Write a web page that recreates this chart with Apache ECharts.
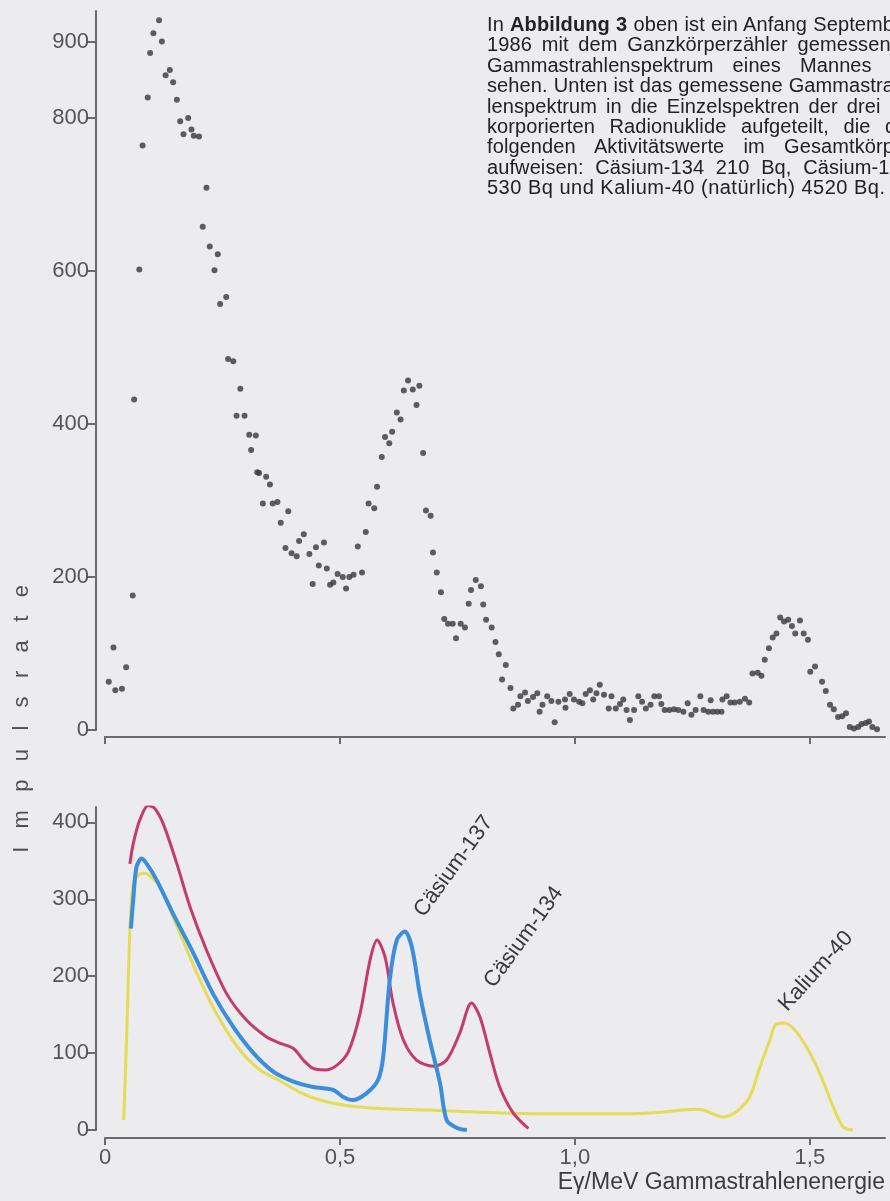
<!DOCTYPE html>
<html>
<head>
<meta charset="utf-8">
<title>Gammaspektrum</title>
<script src="https://cdn.jsdelivr.net/npm/echarts@6/dist/echarts.min.js"></script>
<style>
  html, body { margin: 0; padding: 0; width: 890px; height: 1201px; overflow: hidden; background: #ecebee; }
  #chart { position: absolute; left: 0; top: 0; width: 890px; height: 1201px; }
  #text { position: absolute; left: 487px; top: 14px; font-family: "Liberation Sans", Arial, sans-serif;
          font-size: 20px; letter-spacing: 0.1px; line-height: 20.4px; color: #222; }
  #text div { width: 425px; text-align: justify; text-align-last: justify; white-space: normal; }
  #text div.last { text-align-last: left; width: 600px; letter-spacing: 0.5px; }
</style>
</head>
<body>
<div id="chart"></div>
<div id="text">
  <div>In <b>Abbildung 3</b> oben ist ein Anfang September</div>
  <div>1986 mit dem Ganzkörperzähler gemessenes</div>
  <div>Gammastrahlenspektrum eines Mannes zu</div>
  <div>sehen. Unten ist das gemessene Gammastrah-</div>
  <div>lenspektrum in die Einzelspektren der drei in-</div>
  <div>korporierten Radionuklide aufgeteilt, die die</div>
  <div>folgenden Aktivitätswerte im Gesamtkörper</div>
  <div>aufweisen: Cäsium-134 210 Bq, Cäsium-137</div>
  <div class="last">530 Bq und Kalium-40 (natürlich) 4520 Bq.</div>
</div>
<script>
// gemessenes Spektrum (oben), Energie in MeV und Impulsrate
var spectrumE = [0.008, 0.018, 0.022, 0.036, 0.045, 0.059, 0.062, 0.073, 0.080, 0.091,
  0.096, 0.103, 0.115, 0.121, 0.129, 0.138, 0.145, 0.153, 0.160, 0.167,
  0.177, 0.184, 0.189, 0.200, 0.208, 0.216, 0.223, 0.233, 0.240, 0.245,
  0.258, 0.262, 0.273, 0.280, 0.288, 0.297, 0.307, 0.311, 0.321, 0.324,
  0.328, 0.336, 0.343, 0.351, 0.357, 0.367, 0.374, 0.384, 0.390, 0.397,
  0.408, 0.413, 0.423, 0.435, 0.442, 0.449, 0.455, 0.466, 0.472, 0.479,
  0.486, 0.495, 0.506, 0.513, 0.520, 0.529, 0.538, 0.547, 0.555, 0.561,
  0.573, 0.579, 0.589, 0.596, 0.605, 0.611, 0.621, 0.629, 0.636, 0.645,
  0.655, 0.663, 0.669, 0.677, 0.683, 0.693, 0.698, 0.706, 0.715, 0.722,
  0.730, 0.740, 0.747, 0.757, 0.766, 0.774, 0.779, 0.789, 0.800, 0.805,
  0.811, 0.823, 0.831, 0.838, 0.845, 0.853, 0.863, 0.869, 0.879, 0.884,
  0.894, 0.900, 0.911, 0.920, 0.925, 0.931, 0.941, 0.950, 0.957, 0.965,
  0.979, 0.980, 0.989, 0.998, 1.009, 1.016, 1.023, 1.032, 1.039, 1.046,
  1.053, 1.062, 1.072, 1.078, 1.087, 1.096, 1.103, 1.110, 1.117, 1.126,
  1.135, 1.143, 1.151, 1.161, 1.169, 1.179, 1.184, 1.191, 1.201, 1.211,
  1.220, 1.231, 1.240, 1.248, 1.257, 1.267, 1.274, 1.284, 1.289, 1.294,
  1.303, 1.312, 1.314, 1.323, 1.331, 1.340, 1.351, 1.362, 1.371, 1.378,
  1.389, 1.397, 1.404, 1.413, 1.421, 1.429, 1.437, 1.445, 1.454, 1.462,
  1.469, 1.479, 1.487, 1.496, 1.501, 1.511, 1.526, 1.534, 1.543, 1.551,
  1.560, 1.569, 1.577, 1.585, 1.594, 1.603, 1.610, 1.619, 1.626, 1.633, 1.643];
var spectrumCounts = [63, 108, 52, 54, 82, 176, 432, 602, 764, 827,
  885, 911, 928, 900, 856, 863, 847, 824, 796, 779,
  800, 785, 777, 776, 658, 709, 632, 601, 622, 557,
  566, 485, 482, 411, 446, 411, 386, 366, 385, 337,
  336, 296, 331, 321, 296, 298, 271, 238, 286, 231,
  227, 247, 256, 230, 191, 239, 215, 245, 211, 190,
  193, 204, 200, 185, 200, 203, 240, 206, 259, 296,
  290, 318, 357, 383, 375, 390, 415, 406, 444, 457,
  445, 425, 450, 362, 287, 280, 232, 206, 180, 145,
  139, 139, 120, 139, 134, 165, 183, 196, 188, 164,
  144, 134, 115, 99, 66, 85, 55, 28, 33, 44,
  49, 38, 43, 48, 24, 33, 44, 38, 10, 37,
  40, 29, 47, 40, 37, 35, 47, 52, 40, 48,
  59, 46, 28, 44, 28, 34, 40, 26, 13, 26,
  44, 37, 28, 33, 44, 44, 34, 26, 26, 27,
  26, 24, 35, 20, 26, 44, 26, 24, 39, 24,
  24, 24, 40, 44, 36, 36, 37, 41, 36, 74,
  75, 71, 92, 107, 121, 126, 147, 142, 144, 136,
  126, 143, 126, 118, 76, 83, 63, 51, 33, 27,
  17, 18, 22, 4, 2, 4, 8, 9, 11, 4, 1];

// Einzelspektren (unten)
var cs134E = [0.053, 0.060, 0.074, 0.092, 0.106, 0.124, 0.153, 0.181, 0.216, 0.259,
  0.301, 0.344, 0.372, 0.401, 0.422, 0.443, 0.468, 0.493, 0.518, 0.543,
  0.564, 0.579, 0.596, 0.613, 0.635, 0.663, 0.699, 0.727, 0.755, 0.780,
  0.798, 0.819, 0.840, 0.869, 0.901];
var cs134Counts = [346, 372, 403, 422, 418, 398, 346, 290, 234, 177,
  143, 121, 113, 106, 91, 80, 78, 84, 102, 152,
  221, 247, 225, 165, 117, 91, 83, 91, 126, 165,
  147, 100, 56, 22, 2];

var cs137E = [0.055, 0.060, 0.067, 0.078, 0.089, 0.110, 0.145, 0.188, 0.230, 0.273,
  0.316, 0.358, 0.401, 0.443, 0.486, 0.507, 0.528, 0.557, 0.581, 0.592,
  0.606, 0.621, 0.638, 0.653, 0.670, 0.691, 0.713, 0.727, 0.748, 0.770];
var cs137Counts = [262, 299, 342, 353, 346, 325, 281, 230, 177, 134,
  100, 76, 63, 56, 52, 43, 39, 48, 65, 95,
  195, 247, 258, 238, 177, 117, 61, 13, 3, 0];

var k40E = [0.040, 0.047, 0.053, 0.060, 0.072, 0.085, 0.100, 0.117, 0.160, 0.202,
  0.245, 0.287, 0.330, 0.372, 0.415, 0.457, 0.514, 0.585, 0.691, 0.798,
  0.940, 1.053, 1.110, 1.181, 1.252, 1.273, 1.316, 1.344, 1.372, 1.394,
  1.415, 1.426, 1.443, 1.465, 1.493, 1.521, 1.550, 1.571, 1.592];
var k40Counts = [13, 140, 260, 320, 332, 334, 328, 316, 255, 195,
  143, 104, 78, 64, 49, 39, 32, 28, 26, 23,
  21, 21, 21, 23, 27, 26, 17, 24, 43, 82,
  117, 136, 139, 132, 108, 74, 30, 4, 0];

var topTicks = [0, 200, 400, 600, 800, 900];
var bottomTicks = [0, 100, 200, 300, 400];
var energyTicks = [0, 0.5, 1.0, 1.5];
var peakLabels = [
  { name: 'Cäsium-137', coord: [0.687, 272] },
  { name: 'Cäsium-134', coord: [0.836, 180] },
  { name: 'Kalium-40', coord: [1.460, 149] }
];

function pairs(xs, ys) {
  return xs.map(function (x, i) { return [x, ys[i]]; });
}

var axisColor = '#6b6b6b';
var labelColor = '#545454';
var font = '"Liberation Sans", Arial, sans-serif';

function yAxisOf(grid, max, ticks) {
  return {
    type: 'value', gridIndex: grid, min: 0, max: max, offset: 9,
    axisLine: { show: true, onZero: false, lineStyle: { color: axisColor, width: 2 } },
    axisTick: { show: true, length: 9, customValues: ticks, lineStyle: { color: axisColor, width: 2 } },
    axisLabel: { customValues: ticks, color: labelColor, fontSize: 22, fontFamily: font, margin: 7 },
    splitLine: { show: false }
  };
}

function xAxisOf(grid, offset, withLabels) {
  return {
    type: 'value', gridIndex: grid, min: 0, max: 1.66, offset: offset,
    axisLine: { show: true, onZero: false, lineStyle: { color: axisColor, width: 2 } },
    axisTick: { show: true, length: 7, customValues: energyTicks, lineStyle: { color: axisColor, width: 2 } },
    axisLabel: {
      show: withLabels, customValues: energyTicks, color: labelColor, fontSize: 22, fontFamily: font, margin: 9,
      formatter: function (v) { return v === 0 ? '0' : v.toFixed(1).replace('.', ','); }
    },
    splitLine: { show: false },
    name: withLabels ? 'E\u03b3/MeV Gammastrahlenenergie' : '',
    nameLocation: 'end', nameGap: 0,
    nameTextStyle: { color: '#3c3c3c', fontSize: 23, fontFamily: font, align: 'right', verticalAlign: 'top', padding: [33, 0, 0, 0] }
  };
}

function labelMark(i, angle) {
  return {
    symbol: 'circle', symbolSize: 0, silent: true,
    data: [{ name: peakLabels[i].name, coord: peakLabels[i].coord }],
    label: {
      show: true, formatter: '{b}', position: 'inside', align: 'left', verticalAlign: 'bottom',
      rotate: angle, color: '#3a3a3a', fontSize: 22, fontFamily: font
    }
  };
}

var chart = echarts.init(document.getElementById('chart'), null, { renderer: 'canvas' });
chart.setOption({
  backgroundColor: 'transparent',
  animation: false,
  grid: [
    { left: 105, top: 11, width: 780, height: 719 },
    { left: 105, top: 807, width: 780, height: 323 }
  ],
  xAxis: [xAxisOf(0, 7, false), xAxisOf(1, 8, true)],
  yAxis: [yAxisOf(0, 940, topTicks), yAxisOf(1, 420, bottomTicks)],
  graphic: [{
    type: 'text', x: 22, y: 719, rotation: Math.PI / 2,
    style: { text: 'I   m   p   u   l   s   r   a   t   e', align: 'center', verticalAlign: 'middle',
             fontSize: 22, fontFamily: font, fill: '#505050' }
  }],
  series: [
    {
      type: 'scatter', xAxisIndex: 0, yAxisIndex: 0, symbolSize: 6,
      itemStyle: { color: '#383838' },
      data: pairs(spectrumE, spectrumCounts)
    },
    {
      name: 'Kalium-40', type: 'line', xAxisIndex: 1, yAxisIndex: 1, z: 2,
      smooth: 0.3, showSymbol: false,
      lineStyle: { color: '#e4dc55', width: 3 },
      data: pairs(k40E, k40Counts),
      markPoint: labelMark(2, 48)
    },
    {
      name: 'Cäsium-134', type: 'line', xAxisIndex: 1, yAxisIndex: 1, z: 3,
      smooth: 0.3, showSymbol: false,
      lineStyle: { color: '#c43b6c', width: 3 },
      data: pairs(cs134E, cs134Counts),
      markPoint: labelMark(1, 54)
    },
    {
      name: 'Cäsium-137', type: 'line', xAxisIndex: 1, yAxisIndex: 1, z: 4,
      smooth: 0.3, showSymbol: false,
      lineStyle: { color: '#3b8edb', width: 4 },
      data: pairs(cs137E, cs137Counts),
      markPoint: labelMark(0, 54)
    }
  ]
});
</script>
</body>
</html>
